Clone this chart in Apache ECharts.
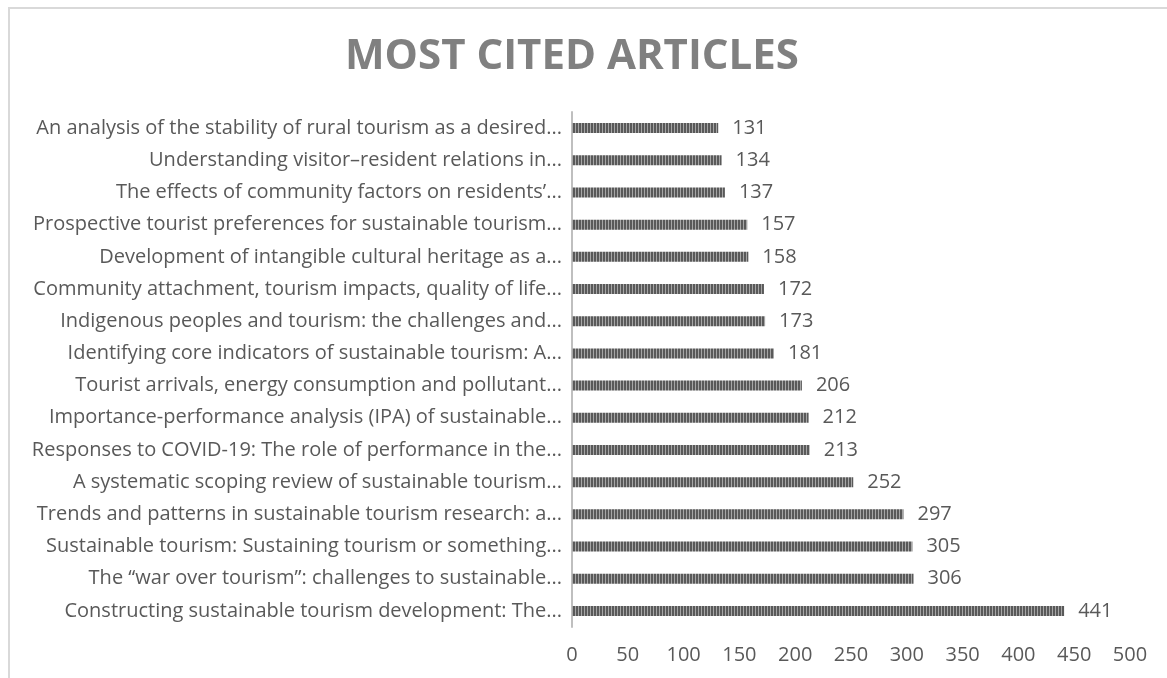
<!DOCTYPE html>
<html><head><meta charset="utf-8">
<script src="https://cdn.jsdelivr.net/npm/echarts@6/dist/echarts.min.js"></script>
<style>html,body{margin:0;padding:0;background:#fff}#c{width:1167px;height:678px}</style>
</head><body><div id="c"></div>
<script>
const categories = [
  "An analysis of the stability of rural tourism as a desired...",
  "Understanding visitor\u2013resident relations in...",
  "The effects of community factors on residents\u2019...",
  "Prospective tourist preferences for sustainable tourism...",
  "Development of intangible cultural heritage as a...",
  "Community attachment, tourism impacts, quality of life...",
  "Indigenous peoples and tourism: the challenges and...",
  "Identifying core indicators of sustainable tourism: A...",
  "Tourist arrivals, energy consumption and pollutant...",
  "Importance-performance analysis (IPA) of sustainable...",
  "Responses to COVID-19: The role of performance in the...",
  "A systematic scoping review of sustainable tourism...",
  "Trends and patterns in sustainable tourism research: a...",
  "Sustainable tourism: Sustaining tourism or something...",
  "The \u201cwar over tourism\u201d: challenges to sustainable...",
  "Constructing sustainable tourism development: The..."
];
const citations = [131,134,137,157,158,172,173,181,206,212,213,252,297,305,306,441];
const xTicks = {min:0, max:500, interval:50};

const pc = document.createElement('canvas');
pc.width = 3; pc.height = 4;
const pctx = pc.getContext('2d');
pctx.fillStyle = '#595959'; pctx.fillRect(0,0,3,4);
pctx.fillStyle = '#a6a6a6'; pctx.fillRect(2,0,1,4);

const chart = echarts.init(document.getElementById('c'), null, {renderer:'canvas'});
const font = "'Open Sans', sans-serif";
chart.setOption({
  animation:false,
  backgroundColor:'#fff',
  title:{
    text:'MOST CITED ARTICLES', left:567, top:31, textAlign:'center',
    textStyle:{fontFamily:font, fontWeight:'bold', fontSize:42, color:'#808080'}
  },
  grid:{left:572, right:37, top:112, bottom:51, containLabel:false},
  xAxis:{
    type:'value', min:xTicks.min, max:xTicks.max, interval:xTicks.interval,
    splitLine:{show:false}, axisLine:{show:false}, axisTick:{show:false},
    axisLabel:{fontFamily:font, fontSize:20, color:'#595959', margin:18}
  },
  yAxis:{
    type:'category', data:categories, inverse:true,
    axisLine:{show:true, lineStyle:{color:'#bfbfbf', width:2}},
    axisTick:{show:false},
    axisLabel:{fontFamily:font, fontSize:20, color:'#595959', margin:10}
  },
  series:[{
    type:'bar', data:citations, barWidth:10,
    itemStyle:{color:{image:pc, repeat:'repeat'}},
    label:{show:true, position:'right', distance:14, fontFamily:font, fontSize:20, color:'#595959'}
  }],
  graphic:[
    {type:'line', shape:{x1:8,y1:8,x2:1167,y2:8}, style:{stroke:'#d9d9d9', lineWidth:2}},
    {type:'line', shape:{x1:9,y1:8,x2:9,y2:678}, style:{stroke:'#d9d9d9', lineWidth:2}}
  ]
});
</script></body></html>
